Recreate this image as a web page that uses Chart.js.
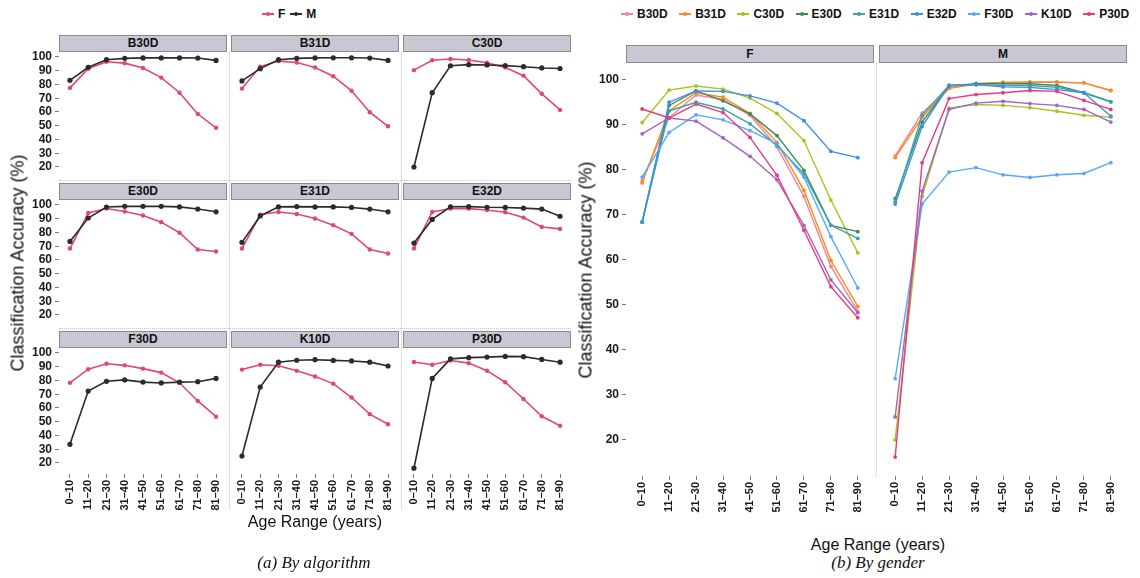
<!DOCTYPE html>
<html>
<head>
<meta charset="utf-8">
<script src="https://cdn.jsdelivr.net/npm/chart.js@4/dist/chart.umd.min.js"></script>
<style>
  body { margin: 0; width: 1140px; height: 578px; position: relative; overflow: hidden; background: #fff;
         font-family: "Liberation Sans", Arial, sans-serif; color: #111; }
  .holder { position: absolute; }
  .strip { position: absolute; box-sizing: border-box; background: #cac7d4; border: 1px solid #8a8893;
           font-weight: bold; font-size: 12px; text-align: center; color: #111; }
  .sep-v { position: absolute; width: 0; border-left: 1px dotted #c2c2cc; }
  .sep-h { position: absolute; height: 0; border-top: 1px dotted #c2c2cc; }
  .title { position: absolute; font-size: 16px; white-space: nowrap; transform: translate(-50%, -50%); }
  .ytitle { font-size: 18px; transform: translate(-50%, -50%) rotate(-90deg); }
  .caption { position: absolute; font-family: "Liberation Serif", serif; font-style: italic; font-size: 17px;
             white-space: nowrap; transform: translate(-50%, -50%); }
  .legend { position: absolute; display: flex; align-items: center; font-weight: bold; font-size: 12px; }
  .item { display: flex; align-items: center; margin-right: 11.5px; }
  .sw { position: relative; width: 12px; height: 2px; margin-right: 4px; }
  .sw i { position: absolute; left: 4px; top: -1.5px; width: 4px; height: 4px; border-radius: 50%; }
</style>
</head>
<body>
<script>
// age groups on the x axis
const ageRanges = ['0–10', '11–20', '21–30', '31–40', '41–50', '51–60', '61–70', '71–80', '81–90']
const algorithms = ['B30D', 'B31D', 'C30D', 'E30D', 'E31D', 'E32D', 'F30D', 'K10D', 'P30D']
const yTicks = [20, 30, 40, 50, 60, 70, 80, 90, 100]
const yMin = 12
const yMax = 103.6

// accuracy (%) for female subjects
const femB30D = [77.5, 91.5, 96.5, 95.5, 92.0, 85.0, 74.0, 58.5, 48.5]
const femB31D = [77.0, 93.0, 97.0, 96.0, 92.4, 86.0, 75.4, 59.8, 49.6]
const femC30D = [90.4, 97.6, 98.5, 97.8, 95.8, 92.4, 86.4, 73.2, 61.5]
const femE30D = [68.3, 94.2, 97.4, 95.2, 92.3, 87.5, 79.8, 67.6, 66.2]
const femE31D = [68.3, 93.0, 94.9, 93.4, 90.1, 85.3, 79.0, 67.6, 64.7]
const femE32D = [68.4, 94.9, 97.4, 97.3, 96.3, 94.7, 90.8, 84.0, 82.6]
const femF30D = [78.3, 88.2, 92.1, 91.0, 88.6, 85.7, 78.3, 65.1, 53.7]
const femK10D = [87.9, 91.4, 90.7, 87.0, 82.9, 77.7, 67.6, 55.5, 48.2]
const femP30D = [93.4, 91.4, 94.5, 92.6, 87.1, 78.7, 66.5, 54.0, 47.1]

// accuracy (%) for male subjects
const maleB30D = [83.0, 92.5, 98.0, 99.0, 99.3, 99.3, 99.3, 99.2, 97.5]
const maleB31D = [82.6, 91.5, 98.0, 99.0, 99.3, 99.4, 99.4, 99.2, 97.5]
const maleC30D = [20.0, 74.0, 93.6, 94.4, 94.2, 93.7, 92.9, 92.0, 91.6]
const maleE30D = [73.5, 90.5, 98.5, 99.0, 99.0, 99.0, 98.6, 97.0, 95.0]
const maleE31D = [72.8, 92.0, 98.6, 98.8, 98.6, 98.6, 98.2, 97.0, 95.0]
const maleE32D = [72.3, 89.5, 98.7, 98.8, 98.3, 98.2, 97.7, 97.0, 91.8]
const maleF30D = [33.6, 72.3, 79.4, 80.4, 78.8, 78.2, 78.8, 79.1, 81.5]
const maleK10D = [25.1, 75.2, 93.3, 94.7, 95.1, 94.6, 94.2, 93.3, 90.5]
const maleP30D = [16.2, 81.5, 95.7, 96.6, 97.0, 97.5, 97.3, 95.3, 93.3]

const femaleAcc = [femB30D, femB31D, femC30D, femE30D, femE31D, femE32D, femF30D, femK10D, femP30D]
const maleAcc = [maleB30D, maleB31D, maleC30D, maleE30D, maleE31D, maleE32D, maleF30D, maleK10D, maleP30D]

const algoColors = ['#f3849c', '#fb8c1e', '#a9c31a', '#3f8a5c', '#3aa6a4', '#3e8ee6', '#58a8ff', '#a064c6', '#e63c7d']
const femColor = '#e0457d'
const maleColor = '#2b2b2b'

const tickFont = { family: 'Liberation Sans', size: 12, weight: 'bold' }
const PAD = 12

function toPoints(vals) {
    return vals.map((v, i) => ({ x: i, y: v }))
}

function addDiv(cls, css, text) {
    const d = document.createElement('div')
    d.className = cls
    d.style.cssText = css
    if (text) d.textContent = text
    document.body.appendChild(d)
    return d
}

// one facet: a chart whose plot area lands on `area`
function drawPanel(area, datasets, opt) {
    const yW = opt.showY ? opt.yWidth : PAD
    const xH = opt.showX ? opt.xHeight : PAD
    const holder = addDiv('holder',
        `left:${area.x - yW}px;top:${area.y - PAD}px;width:${yW + area.w + PAD}px;height:${PAD + area.h + xH}px`)
    const canvas = document.createElement('canvas')
    holder.appendChild(canvas)

    return new Chart(canvas, {
        type: 'line',
        data: { datasets: datasets },
        options: {
            responsive: true,
            maintainAspectRatio: false,
            animation: false,
            layout: { padding: { left: opt.showY ? 0 : PAD, top: PAD, right: PAD, bottom: opt.showX ? 0 : PAD } },
            plugins: { legend: { display: false }, tooltip: { enabled: false } },
            scales: {
                x: {
                    type: 'linear',
                    min: -0.6,
                    max: ageRanges.length - 0.4,
                    display: opt.showX,
                    afterBuildTicks: (s) => { s.ticks = ageRanges.map((_, i) => ({ value: i })) },
                    afterFit: (s) => { if (opt.showX) s.height = opt.xHeight },
                    ticks: {
                        callback: (v) => ageRanges[v],
                        minRotation: 90,
                        maxRotation: 90,
                        autoSkip: false,
                        padding: 2,
                        font: { family: 'Liberation Sans', size: 11, weight: 'bold' },
                        color: '#1a1a1a',
                    },
                    grid: { drawOnChartArea: false, tickLength: 4, tickColor: '#777' },
                    border: { display: false },
                },
                y: {
                    min: yMin,
                    max: yMax,
                    display: opt.showY,
                    afterBuildTicks: (s) => { s.ticks = yTicks.map(v => ({ value: v })) },
                    afterFit: (s) => { if (opt.showY) s.width = opt.yWidth },
                    ticks: { font: tickFont, color: '#1a1a1a', padding: 3, autoSkip: false },
                    grid: { drawOnChartArea: false, tickLength: 4, tickColor: '#777' },
                    border: { display: false },
                },
            },
        },
    })
}

// (a) one facet per algorithm, F vs M
const colX = [59, 231, 403]
const colW = 168
const rowY = [35, 183, 331]
const stripH = 17
const plotH = 126

algorithms.forEach((name, k) => {
    const r = Math.floor(k / 3)
    const c = k % 3
    const area = { x: colX[c], y: rowY[r] + stripH, w: colW, h: plotH }
    addDiv('strip', `left:${area.x}px;top:${rowY[r]}px;width:${colW}px;height:${stripH}px;line-height:${stripH - 2}px`, name)
    drawPanel(area, [
        {
            data: toPoints(femaleAcc[k]), borderColor: femColor, backgroundColor: femColor,
            borderWidth: 1.6, pointRadius: 2.2, pointBorderWidth: 0, order: 1,
        },
        {
            data: toPoints(maleAcc[k]), borderColor: maleColor, backgroundColor: maleColor,
            borderWidth: 1.6, pointRadius: 2.6, pointBorderWidth: 0, order: 0,
        },
    ], { showY: c === 0, showX: r === 2, yWidth: 59, xHeight: 45 })
})

// dotted panel edges
addDiv('sep-v', `left:229px;top:${rowY[0] + stripH}px;height:${rowY[2] + plotH}px`)
addDiv('sep-v', `left:401px;top:${rowY[0] + stripH}px;height:${rowY[2] + plotH}px`)
addDiv('sep-h', `left:59px;top:180px;width:512px`)
addDiv('sep-h', `left:59px;top:328px;width:512px`)

// legend F / M
const legA = addDiv('legend', 'left:262px;top:7px')
;[['F', femColor], ['M', maleColor]].forEach(([lab, col]) => {
    const it = document.createElement('div')
    it.className = 'item'
    it.style.marginRight = '5px'
    it.innerHTML = `<span class="sw" style="background:${col}"><i style="background:${col}"></i></span>${lab}`
    legA.appendChild(it)
})

addDiv('title ytitle', 'left:18px;top:263px', 'Classification Accuracy (%)')
addDiv('title', 'left:315px;top:522px', 'Age Range (years)')
addDiv('caption', 'left:314px;top:563px', '(a) By algorithm')

// (b) one facet per gender, all algorithms
const genderFacets = [
    { label: 'F', values: femaleAcc, x: 626 },
    { label: 'M', values: maleAcc, x: 879 },
]
const facetW = 248
const facetTop = 45
const facetStripH = 18
const facetH = 413

genderFacets.forEach((g, k) => {
    const area = { x: g.x, y: facetTop + facetStripH, w: facetW, h: facetH }
    addDiv('strip', `left:${area.x}px;top:${facetTop}px;width:${facetW}px;height:${facetStripH}px;line-height:${facetStripH - 2}px`, g.label)
    drawPanel(area, algorithms.map((name, i) => ({
        label: name,
        data: toPoints(g.values[i]),
        borderColor: algoColors[i],
        backgroundColor: algoColors[i],
        borderWidth: 1.4,
        pointRadius: 1.9,
        pointBorderWidth: 0,
        order: algorithms.length - i,
    })), { showY: k === 0, showX: true, yWidth: 40, xHeight: 60 })
})

addDiv('sep-v', `left:876px;top:${facetTop + facetStripH}px;height:${facetH}px`)

const legB = addDiv('legend', 'left:621px;top:7px')
algorithms.forEach((name, i) => {
    const it = document.createElement('div')
    it.className = 'item'
    it.innerHTML = `<span class="sw" style="background:${algoColors[i]}"><i style="background:${algoColors[i]}"></i></span>${name}`
    legB.appendChild(it)
})

addDiv('title ytitle', 'left:586px;top:270px', 'Classification Accuracy (%)')
addDiv('title', 'left:878px;top:545px', 'Age Range (years)')
addDiv('caption', 'left:878px;top:563px', '(b) By gender')
</script>
</body>
</html>
